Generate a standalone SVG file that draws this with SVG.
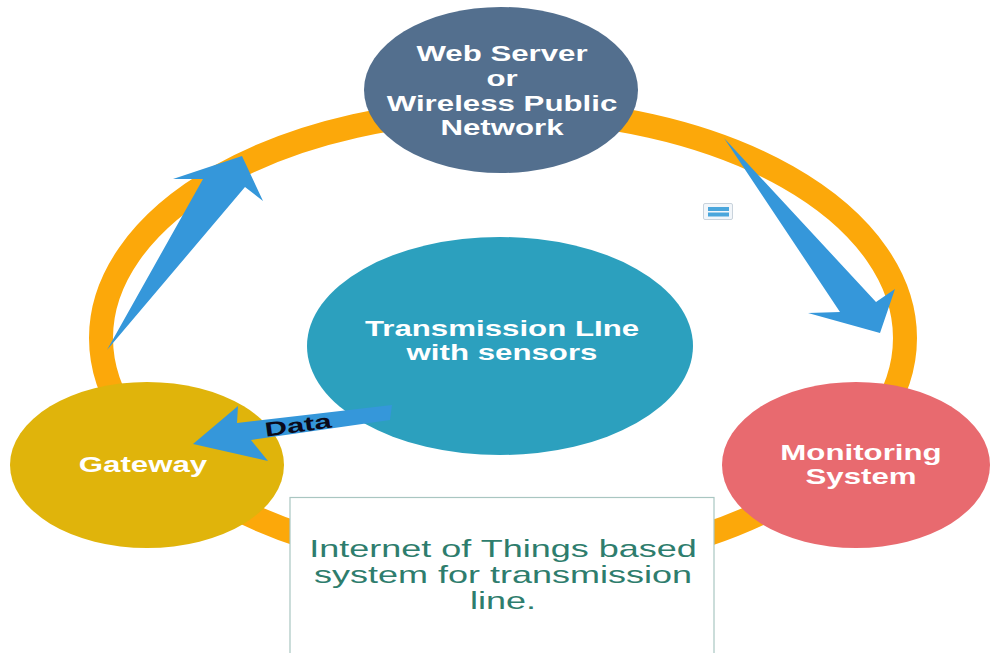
<svg xmlns="http://www.w3.org/2000/svg" width="992" height="653" viewBox="0 0 992 653">
<style>
.lbl{font-family:"Liberation Sans",Arial,sans-serif;font-weight:bold;font-size:22px;fill:#ffffff;text-anchor:middle}
.cap{font-family:"Liberation Sans",Arial,sans-serif;font-size:24px;fill:#2E7D6D;text-anchor:middle}
.arrow{fill:#3597DA}
</style>
<rect x="0" y="0" width="992" height="653" fill="#ffffff"/>
<g id="ring">
<ellipse cx="503" cy="338" rx="402" ry="228" fill="none" stroke="#FCA80A" stroke-width="24"/>
</g>
<g id="connectors">
<polygon class="arrow" points="107,350 203,179 173,179 242,156 263,201 245,187"/>
<polygon class="arrow" points="724,138 876,302 895,289 880,333 808,313 840,312"/>
</g>
<g id="node-web">
<ellipse cx="501" cy="90" rx="137" ry="83" fill="#536F8E"/>
<g transform="translate(502,0) scale(1.42,1)">
<text class="lbl" x="0" y="61">Web Server</text>
<text class="lbl" x="0" y="86">or</text>
<text class="lbl" x="0" y="111">Wireless Public</text>
<text class="lbl" x="0" y="135">Network</text>
</g>
</g>
<g id="node-center">
<ellipse cx="500" cy="346" rx="193" ry="109" fill="#2CA0BE"/>
<g transform="translate(502,0) scale(1.42,1)">
<text class="lbl" x="0" y="336">Transmission LIne</text>
<text class="lbl" x="0" y="360">with sensors</text>
</g>
</g>
<g id="node-gateway">
<ellipse cx="147" cy="465" rx="137" ry="83" fill="#E0B40B"/>
<g transform="translate(143,0) scale(1.42,1)">
<text class="lbl" x="0" y="472">Gateway</text>
</g>
</g>
<g id="node-monitoring">
<ellipse cx="856" cy="465" rx="134" ry="83" fill="#E86A6F"/>
<g transform="translate(861,0) scale(1.42,1)">
<text class="lbl" x="0" y="460">Monitoring</text>
<text class="lbl" x="0" y="484">System</text>
</g>
</g>
<g id="data-arrow">
<polygon class="arrow" points="193,444 238,406 237,423 392,405 390,420 251,440 268,461"/>
<g transform="translate(299,432) rotate(-8) scale(1.55,1)">
<text x="0" y="0" text-anchor="middle" font-family="Liberation Sans, Arial, sans-serif" font-weight="bold" font-size="20" fill="#0A0A1A">Data</text>
</g>
</g>
<g id="icon">
<rect x="703.5" y="203.5" width="29" height="16" rx="1.5" fill="#F2F6FA" stroke="#C9D3DC" stroke-width="1"/>
<rect x="708" y="207" width="21" height="4" fill="#4AA6DC"/>
<rect x="708" y="212.5" width="21" height="4" fill="#4AA6DC"/>
</g>
<g id="caption">
<rect x="290" y="497.5" width="424" height="170" fill="#ffffff" stroke="#A9C6C1" stroke-width="1.2"/>
<g transform="translate(503,0) scale(1.5,1)">
<text class="cap" x="0" y="557">Internet of Things based</text>
<text class="cap" x="0" y="583">system for transmission</text>
<text class="cap" x="0" y="609">line.</text>
</g>
</g>
</svg>
